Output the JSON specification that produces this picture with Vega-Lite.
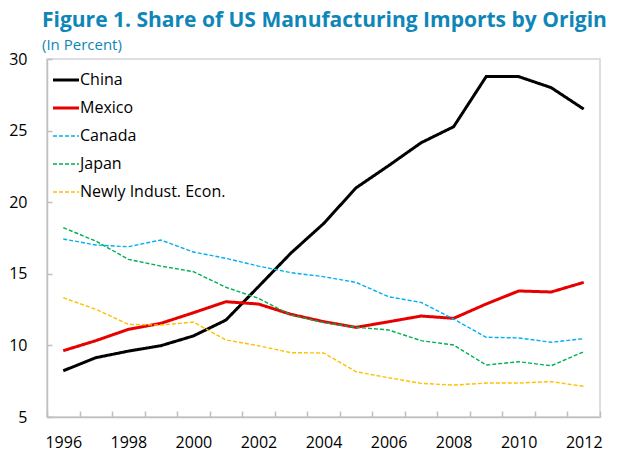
{
  "$schema": "https://vega.github.io/schema/vega-lite/v6.json",
  "width": 553,
  "height": 358,
  "autosize": {"type": "none"},
  "padding": {"left": 47, "top": 59, "right": 17, "bottom": 34},
  "background": "white",
  "title": {
    "text": "Figure 1. Share of US Manufacturing Imports by Origin",
    "subtitle": "(In Percent)",
    "anchor": "start",
    "frame": "group",
    "dx": -5,
    "offset": -2,
    "font": "Open Sans",
    "fontSize": 21,
    "fontWeight": "bold",
    "color": "#0e86b8",
    "subtitleFont": "Open Sans",
    "subtitleFontSize": 15,
    "subtitleColor": "#0e86b8",
    "subtitlePadding": 7
  },
  "config": {
    "view": {"stroke": "#d4d4d4", "strokeWidth": 1.5},
    "font": "Open Sans",
    "axis": {
      "labelFont": "Open Sans",
      "labelFontSize": 16,
      "labelColor": "#000000",
      "domainColor": "#bfbfbf",
      "domainWidth": 1.5,
      "tickColor": "#bfbfbf",
      "tickWidth": 1.5,
      "grid": false,
      "title": null
    }
  },
  "data": {
    "values": [
      {"year": 1996, "series": "China", "value": 8.23},
      {"year": 1997, "series": "China", "value": 9.14},
      {"year": 1998, "series": "China", "value": 9.6},
      {"year": 1999, "series": "China", "value": 9.98},
      {"year": 2000, "series": "China", "value": 10.66},
      {"year": 2001, "series": "China", "value": 11.77},
      {"year": 2002, "series": "China", "value": 14.1},
      {"year": 2003, "series": "China", "value": 16.45},
      {"year": 2004, "series": "China", "value": 18.5},
      {"year": 2005, "series": "China", "value": 21.0},
      {"year": 2006, "series": "China", "value": 22.55},
      {"year": 2007, "series": "China", "value": 24.15},
      {"year": 2008, "series": "China", "value": 25.27},
      {"year": 2009, "series": "China", "value": 28.77},
      {"year": 2010, "series": "China", "value": 28.77},
      {"year": 2011, "series": "China", "value": 28.0},
      {"year": 2012, "series": "China", "value": 26.5},
      {"year": 1996, "series": "Mexico", "value": 9.63},
      {"year": 1997, "series": "Mexico", "value": 10.33},
      {"year": 1998, "series": "Mexico", "value": 11.12},
      {"year": 1999, "series": "Mexico", "value": 11.54},
      {"year": 2000, "series": "Mexico", "value": 12.28},
      {"year": 2001, "series": "Mexico", "value": 13.05},
      {"year": 2002, "series": "Mexico", "value": 12.89},
      {"year": 2003, "series": "Mexico", "value": 12.17},
      {"year": 2004, "series": "Mexico", "value": 11.66},
      {"year": 2005, "series": "Mexico", "value": 11.26},
      {"year": 2006, "series": "Mexico", "value": 11.65},
      {"year": 2007, "series": "Mexico", "value": 12.05},
      {"year": 2008, "series": "Mexico", "value": 11.89},
      {"year": 2009, "series": "Mexico", "value": 12.89},
      {"year": 2010, "series": "Mexico", "value": 13.8},
      {"year": 2011, "series": "Mexico", "value": 13.73},
      {"year": 2012, "series": "Mexico", "value": 14.4},
      {"year": 1996, "series": "Canada", "value": 17.43},
      {"year": 1997, "series": "Canada", "value": 17.01},
      {"year": 1998, "series": "Canada", "value": 16.89},
      {"year": 1999, "series": "Canada", "value": 17.36},
      {"year": 2000, "series": "Canada", "value": 16.52},
      {"year": 2001, "series": "Canada", "value": 16.08},
      {"year": 2002, "series": "Canada", "value": 15.54},
      {"year": 2003, "series": "Canada", "value": 15.08},
      {"year": 2004, "series": "Canada", "value": 14.8},
      {"year": 2005, "series": "Canada", "value": 14.4},
      {"year": 2006, "series": "Canada", "value": 13.4},
      {"year": 2007, "series": "Canada", "value": 13.0},
      {"year": 2008, "series": "Canada", "value": 11.84},
      {"year": 2009, "series": "Canada", "value": 10.57},
      {"year": 2010, "series": "Canada", "value": 10.52},
      {"year": 2011, "series": "Canada", "value": 10.22},
      {"year": 2012, "series": "Canada", "value": 10.47},
      {"year": 1996, "series": "Japan", "value": 18.22},
      {"year": 1997, "series": "Japan", "value": 17.29},
      {"year": 1998, "series": "Japan", "value": 16.01},
      {"year": 1999, "series": "Japan", "value": 15.54},
      {"year": 2000, "series": "Japan", "value": 15.15},
      {"year": 2001, "series": "Japan", "value": 14.06},
      {"year": 2002, "series": "Japan", "value": 13.29},
      {"year": 2003, "series": "Japan", "value": 12.12},
      {"year": 2004, "series": "Japan", "value": 11.6},
      {"year": 2005, "series": "Japan", "value": 11.26},
      {"year": 2006, "series": "Japan", "value": 11.08},
      {"year": 2007, "series": "Japan", "value": 10.33},
      {"year": 2008, "series": "Japan", "value": 10.03},
      {"year": 2009, "series": "Japan", "value": 8.63},
      {"year": 2010, "series": "Japan", "value": 8.86},
      {"year": 2011, "series": "Japan", "value": 8.58},
      {"year": 2012, "series": "Japan", "value": 9.56},
      {"year": 1996, "series": "Newly Indust. Econ.", "value": 13.33},
      {"year": 1997, "series": "Newly Indust. Econ.", "value": 12.52},
      {"year": 1998, "series": "Newly Indust. Econ.", "value": 11.47},
      {"year": 1999, "series": "Newly Indust. Econ.", "value": 11.42},
      {"year": 2000, "series": "Newly Indust. Econ.", "value": 11.63},
      {"year": 2001, "series": "Newly Indust. Econ.", "value": 10.38},
      {"year": 2002, "series": "Newly Indust. Econ.", "value": 9.98},
      {"year": 2003, "series": "Newly Indust. Econ.", "value": 9.49},
      {"year": 2004, "series": "Newly Indust. Econ.", "value": 9.47},
      {"year": 2005, "series": "Newly Indust. Econ.", "value": 8.16},
      {"year": 2006, "series": "Newly Indust. Econ.", "value": 7.74},
      {"year": 2007, "series": "Newly Indust. Econ.", "value": 7.35},
      {"year": 2008, "series": "Newly Indust. Econ.", "value": 7.23},
      {"year": 2009, "series": "Newly Indust. Econ.", "value": 7.37},
      {"year": 2010, "series": "Newly Indust. Econ.", "value": 7.37},
      {"year": 2011, "series": "Newly Indust. Econ.", "value": 7.47},
      {"year": 2012, "series": "Newly Indust. Econ.", "value": 7.14}
    ]
  },
  "mark": {"type": "line", "strokeJoin": "miter", "strokeCap": "butt"},
  "encoding": {
    "x": {
      "field": "year",
      "type": "ordinal",
      "bandPosition": 0.5,
      "scale": {"type": "band", "paddingInner": 0, "paddingOuter": 0},
      "axis": {
        "tickBand": "extent",
        "tickSize": -6,
        "labelAngle": 0,
        "labelPadding": 23,
        "labelExpr": "datum.value % 2 == 0 ? datum.label : ''"
      }
    },
    "y": {
      "field": "value",
      "type": "quantitative",
      "scale": {"domain": [5, 30], "nice": false, "zero": false},
      "axis": {
        "values": [5, 10, 15, 20, 25, 30],
        "tickSize": -5,
        "labelPadding": 25
      }
    },
    "color": {
      "field": "series",
      "type": "nominal",
      "scale": {
        "domain": ["China", "Mexico", "Canada", "Japan", "Newly Indust. Econ."],
        "range": ["#000000", "#e60000", "#00b0f0", "#00b050", "#ffc000"]
      },
      "legend": {
        "title": null,
        "orient": "none",
        "legendX": 11,
        "legendY": 13,
        "symbolType": "stroke",
        "symbolSize": 676,
        "symbolStrokeWidth": 3,
        "labelFont": "Open Sans",
        "labelFontSize": 16,
        "labelColor": "#000000",
        "labelOffset": 6,
        "rowPadding": 12,
        "encode": {
          "symbols": {
            "update": {
              "strokeWidth": {"signal": "datum.value == 'China' || datum.value == 'Mexico' ? 3 : 1.5"}
            }
          }
        }
      }
    },
    "strokeDash": {
      "field": "series",
      "type": "nominal",
      "scale": {
        "domain": ["China", "Mexico", "Canada", "Japan", "Newly Indust. Econ."],
        "range": [[1, 0], [1, 0], [4, 2], [4, 2], [4, 2]]
      },
      "legend": {
        "title": null,
        "orient": "none",
        "legendX": 11,
        "legendY": 13,
        "symbolType": "stroke",
        "symbolSize": 676,
        "labelFont": "Open Sans",
        "labelFontSize": 16,
        "labelOffset": 6,
        "rowPadding": 12
      }
    },
    "strokeWidth": {
      "condition": {"test": "datum.series == 'China' || datum.series == 'Mexico'", "value": 3},
      "value": 1.4
    }
  }
}
